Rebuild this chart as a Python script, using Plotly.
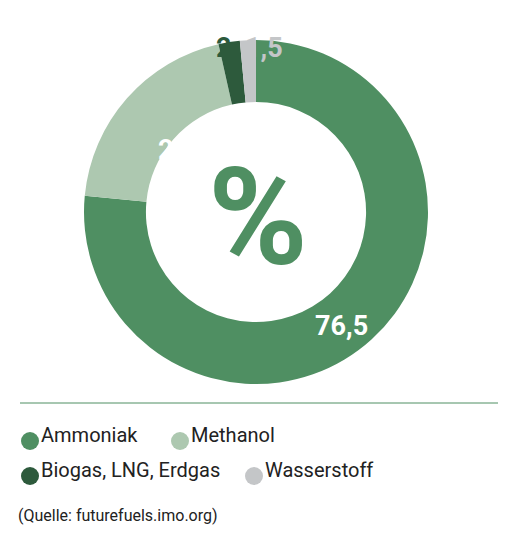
import plotly.graph_objects as go

labels = ["Ammoniak", "Methanol", "Biogas, LNG, Erdgas", "Wasserstoff"]
values = [76.5, 20, 2, 1.5]
value_text = ["76,5", "20", "2", "1,5"]
colors = ["#4f8f62", "#adc8b0", "#2d5a3c", "#c4c6c8"]

W, H = 510, 540
FONT = "Liberation Sans Narrow, Roboto, Arial"

def px(x, y):
    return x / W, 1 - y / H

fig = go.Figure(go.Pie(
    labels=labels, values=values, sort=False, direction="clockwise", rotation=0,
    hole=0.64, marker=dict(colors=colors, line=dict(width=0)),
    textinfo="none", hoverinfo="label+value",
    domain=dict(x=[76 / W, 420 / W], y=[1 - 376 / H, 1 - 32 / H]),
))

ann = []
label_pos = [(333, 318, "white"), (148, 124, "white"), (216, 22, "#2d5a3c"), (256, 22, "#c4c6c8")]
for (x, y, c), t in zip(label_pos, value_text):
    X, Y = px(x, y)
    ann.append(dict(x=X, y=Y, xref="paper", yref="paper", text=f"<b>{t}</b>", showarrow=False,
                    font=dict(family=FONT, size=27, color=c)))
X, Y = px(250, 210)
ann.append(dict(x=X, y=Y, xref="paper", yref="paper", text="<b>%</b>", showarrow=False,
                font=dict(family=FONT, size=135, color="#4f8f62")))

shapes = [dict(type="line", xref="paper", yref="paper", x0=12 / W, x1=490 / W,
               y0=1 - 395 / H, y1=1 - 395 / H, line=dict(color="#4f8f62", width=1))]
leg = [(22, 441), (172, 441), (22, 476), (246, 476)]
for (x, y), lab, c in zip(leg, labels, colors):
    x0, y0 = px(x - 9, y - 9 - 8)
    x1, y1 = px(x + 9, y + 9 - 8)
    shapes.append(dict(type="circle", xref="paper", yref="paper", x0=x0, x1=x1, y0=y1, y1=y0,
                       fillcolor=c, line=dict(width=0)))
    X, Y = px(x + 9, y)
    ann.append(dict(x=X, y=Y, xref="paper", yref="paper", text=lab, showarrow=False, xanchor="left",
                    font=dict(family=FONT, size=20, color="#222")))
X, Y = px(8, 519)
ann.append(dict(x=X, y=Y, xref="paper", yref="paper", text="(Quelle: futurefuels.imo.org)", showarrow=False,
                xanchor="left", font=dict(family=FONT, size=16, color="#222")))

fig.update_layout(width=W, height=H, margin=dict(l=0, r=0, t=0, b=0), showlegend=False,
                  paper_bgcolor="white", plot_bgcolor="white", annotations=ann, shapes=shapes)
fig.write_html("out.html")
